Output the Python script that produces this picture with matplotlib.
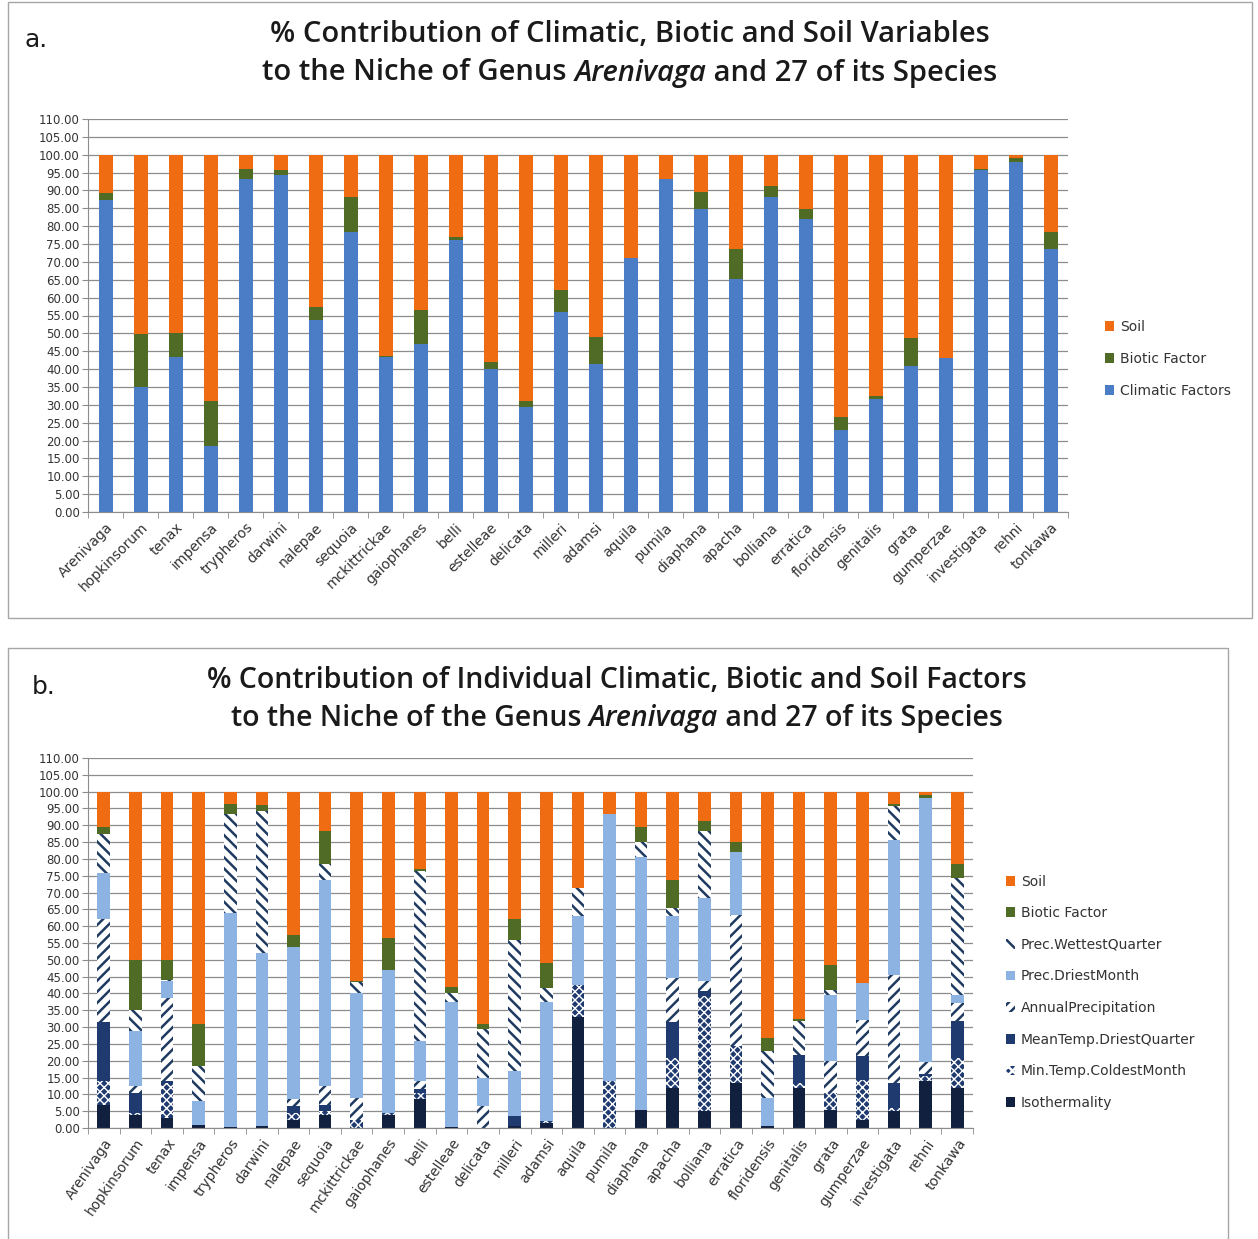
import matplotlib
matplotlib.use("Agg")
import matplotlib.pyplot as plt
from matplotlib.patches import Rectangle
import numpy as np

plt.rcParams["font.family"] = ["DejaVu Sans"]
plt.rcParams["hatch.linewidth"] = 1.8

species = ["Arenivaga", "hopkinsorum", "tenax", "impensa", "trypheros", "darwini",
           "nalepae", "sequoia", "mckittrickae", "gaiophanes", "belli", "estelleae",
           "delicata", "milleri", "adamsi", "aquila", "pumila", "diaphana", "apacha",
           "bolliana", "erratica", "floridensis", "genitalis", "grata", "gumperzae",
           "investigata", "rehni", "tonkawa"]

# panel a: grouped variables
climatic = [87.2, 34.9, 43.4, 18.4, 93.3, 94.2, 53.8, 78.5, 43.4, 47.1, 76.2, 40.1, 29.5, 56.0,
            41.5, 71.0, 93.3, 84.9, 65.3, 88.3, 82.1, 23.0, 31.7, 41.0, 43.0, 95.7, 97.9, 73.6]
biotic_a = [2.0, 15.0, 6.6, 12.6, 2.8, 1.6, 3.6, 9.7, 0.3, 9.3, 0.8, 1.9, 1.6, 6.0,
            7.5, 0.0, 0.0, 4.6, 8.2, 2.9, 2.6, 3.6, 0.9, 7.7, 0.2, 0.4, 1.2, 4.8]
soil_a = [10.8, 50.1, 50.0, 69.0, 3.9, 4.2, 42.6, 11.8, 56.3, 43.6, 23.0, 58.0, 68.9, 38.0,
          51.0, 29.0, 6.7, 10.5, 26.5, 8.8, 15.3, 73.4, 67.4, 51.3, 56.8, 3.9, 0.9, 21.6]

# panel b: individual factors
isotherm = [6.9, 4.0, 3.0, 1.0, 0.3, 0.5, 2.5, 4.0, 0.0, 4.0, 8.5, 0.3, 0.0, 0.5,
            1.5, 33.0, 0.0, 5.4, 11.9, 5.0, 13.4, 0.7, 11.9, 5.4, 2.5, 5.0, 14.0, 11.9]
min_temp = [7.0, 0.5, 10.5, 0.0, 0.0, 0.0, 2.0, 1.0, 2.5, 0.6, 2.0, 0.0, 0.0, 0.0,
            0.5, 9.6, 13.9, 0.0, 8.9, 34.1, 10.9, 0.0, 1.5, 5.0, 11.9, 0.9, 1.5, 8.9]
mean_temp = [17.5, 6.0, 0.5, 0.0, 0.0, 0.0, 2.0, 1.7, 0.0, 0.0, 1.0, 0.0, 0.0, 3.0,
             0.0, 0.0, 0.0, 0.0, 10.6, 1.5, 0.0, 0.0, 8.4, 0.0, 6.9, 7.5, 0.5, 10.9]
annual_prec = [30.8, 1.9, 24.6, 0.0, 0.0, 0.0, 2.0, 5.7, 6.4, 0.0, 2.4, 0.0, 6.4, 0.0,
               0.0, 0.0, 0.0, 0.0, 13.2, 3.0, 39.1, 0.0, 0.0, 9.4, 10.7, 32.1, 3.5, 5.4]
prec_driest = [13.5, 16.3, 5.0, 6.9, 63.6, 51.5, 45.2, 61.4, 31.2, 42.5, 11.9, 37.3, 8.5, 13.3,
               35.6, 20.3, 79.4, 75.3, 18.5, 24.7, 18.8, 8.2, 0.0, 19.8, 11.0, 40.1, 78.5, 2.5]
prec_wettest = [11.6, 6.4, 0.3, 10.4, 29.6, 42.3, 0.0, 4.7, 3.3, 0.0, 50.6, 2.5, 14.6, 39.2,
                4.0, 8.4, 0.0, 4.2, 2.2, 20.1, 0.0, 14.1, 9.9, 1.4, 0.0, 10.2, 0.0, 34.7]
biotic_b = [2.1, 14.9, 6.1, 12.5, 2.7, 1.6, 3.8, 9.7, 0.3, 9.3, 0.6, 1.8, 1.3, 6.0,
            7.4, 0.0, 0.0, 4.5, 8.3, 2.9, 2.7, 3.7, 0.8, 7.6, 0.2, 0.4, 1.1, 4.3]
soil_b = [10.6, 50.0, 50.0, 69.2, 3.8, 4.1, 42.5, 11.8, 56.3, 43.6, 23.0, 58.1, 69.2, 38.0,
          51.0, 28.7, 6.7, 10.6, 26.4, 8.7, 15.1, 73.3, 67.5, 51.4, 56.8, 3.8, 0.9, 21.4]

ORANGE = "#EF6C12"
GREEN = "#4F6B26"
BLUE = "#4A7DC6"
LIGHT = "#8DB3E2"
ISO = "#12203F"
NAVY = "#1F3A6E"
HATCH = "#1F3A60"

W, H = 1258, 1239
fig = plt.figure(figsize=(W / 100, H / 100), dpi=100)


def px_axes(left, top, right, bottom):
    return fig.add_axes([left / W, 1 - bottom / H, (right - left) / W, (bottom - top) / H])


def style_axes(ax, rot):
    ax.set_xlim(-0.5, len(species) - 0.5)
    ax.set_ylim(0, 110)
    ax.set_yticks(np.arange(0, 111, 5))
    ax.set_yticklabels(["%.2f" % v for v in np.arange(0, 111, 5)], fontsize=8.5, color="#333333")
    ax.yaxis.grid(True, color="#8C8C8C", lw=0.9)
    ax.set_axisbelow(True)
    for s in ["top", "right"]:
        ax.spines[s].set_visible(False)
    ax.spines["left"].set_color("#8C8C8C")
    ax.spines["bottom"].set_color("#8C8C8C")
    ax.tick_params(axis="y", length=4, color="#8C8C8C", pad=2)
    ax.set_xticks(np.arange(len(species)))
    ax.set_xticklabels(species, rotation=rot, ha="right", va="top",
                       rotation_mode="anchor", fontsize=10, color="#333333")
    ax.tick_params(axis="x", which="major", length=0, pad=6)
    ax.set_xticks(np.arange(len(species) + 1) - 0.5, minor=True)
    ax.tick_params(axis="x", which="minor", length=4, color="#8C8C8C")


def title(lines, y1, y2, cx, size):
    kw = dict(fontsize=size, fontweight="semibold", fontstretch="normal",
              color="#1a1a1a", family="Open Sans")
    fig.text(cx / W, 1 - y1 / H, lines[0], ha="center", va="center", **kw)
    r = fig.canvas.get_renderer()
    parts = [(lines[1], "normal"), ("Arenivaga", "italic"), (lines[2], "normal")]
    texts = [fig.text(0, 1 - y2 / H, s, ha="left", va="center", style=st, **kw)
             for s, st in parts]
    widths = [t.get_window_extent(r).width for t in texts]
    x = cx - sum(widths) / 2
    for t, w in zip(texts, widths):
        t.set_x(x / W)
        x += w


def hatch_lw(bars, lw):
    for p in bars:
        if hasattr(p, "set_hatch_linewidth"):
            p.set_hatch_linewidth(lw)


# boxes around the two panels
fig.add_artist(Rectangle((8 / W, 1 - 618 / H), 1244 / W, 616 / H, transform=fig.transFigure,
                         fill=False, ec="#A6A6A6", lw=1))
fig.add_artist(Rectangle((8 / W, 1 - 1250 / H), 1220 / W, 602 / H, transform=fig.transFigure,
                         fill=False, ec="#A6A6A6", lw=1))

x = np.arange(len(species))
bw = 0.4

# ---- panel a
ax1 = px_axes(88, 119, 1068, 512)
style_axes(ax1, 45)
b = np.zeros(len(species))
for vals, col, lab in [(climatic, BLUE, "Climatic Factors"), (biotic_a, GREEN, "Biotic Factor"),
                       (soil_a, ORANGE, "Soil")]:
    ax1.bar(x, vals, bw, bottom=b, color=col, label=lab, zorder=2)
    b = b + np.array(vals)
h, l = ax1.get_legend_handles_labels()
fig.legend(h[::-1], l[::-1], loc="upper left", bbox_to_anchor=(1092 / W, 1 - 307 / H),
           frameon=False, fontsize=10, handlelength=0.7, handleheight=0.7,
           handletextpad=0.4, labelspacing=1.3, labelcolor="#333333")
fig.text(25 / W, 1 - 40 / H, "a.", fontsize=18, va="center", color="#1a1a1a")
title(["% Contribution of Climatic, Biotic and Soil Variables",
       "to the Niche of Genus ", " and 27 of its Species"], 34, 73, 630, 21)

# ---- panel b
ax2 = px_axes(88, 758, 973, 1128)
style_axes(ax2, 55)
series = [
    (isotherm, dict(color=ISO), "Isothermality", None),
    (min_temp, dict(color=NAVY, edgecolor="white", hatch="xxxx", lw=0), "Min.Temp.ColdestMonth", 1.0),
    (mean_temp, dict(color=NAVY), "MeanTemp.DriestQuarter", None),
    (annual_prec, dict(facecolor="white", edgecolor=HATCH, hatch="///", lw=0), "AnnualPrecipitation", 1.8),
    (prec_driest, dict(color=LIGHT), "Prec.DriestMonth", None),
    (prec_wettest, dict(facecolor="white", edgecolor=HATCH, hatch="\\\\\\", lw=0), "Prec.WettestQuarter", 1.8),
    (biotic_b, dict(color=GREEN), "Biotic Factor", None),
    (soil_b, dict(color=ORANGE), "Soil", None),
]
b = np.zeros(len(species))
for vals, kw, lab, hl in series:
    bars = ax2.bar(x, vals, bw, bottom=b, label=lab, zorder=2, **kw)
    if hl:
        hatch_lw(bars, hl)
    b = b + np.array(vals)
h, l = ax2.get_legend_handles_labels()
leg = fig.legend(h[::-1], l[::-1], loc="upper left", bbox_to_anchor=(993 / W, 1 - 862 / H),
                 frameon=False, fontsize=10, handlelength=0.7, handleheight=0.7,
                 handletextpad=0.4, labelspacing=1.27, labelcolor="#333333")
fig.text(32 / W, 1 - 687 / H, "b.", fontsize=18, va="center", color="#1a1a1a")
title(["% Contribution of Individual Climatic, Biotic and Soil Factors",
       "to the Niche of the Genus ", " and 27 of its Species"], 681, 719, 617, 20.5)

fig.savefig("out.png", dpi=100)
